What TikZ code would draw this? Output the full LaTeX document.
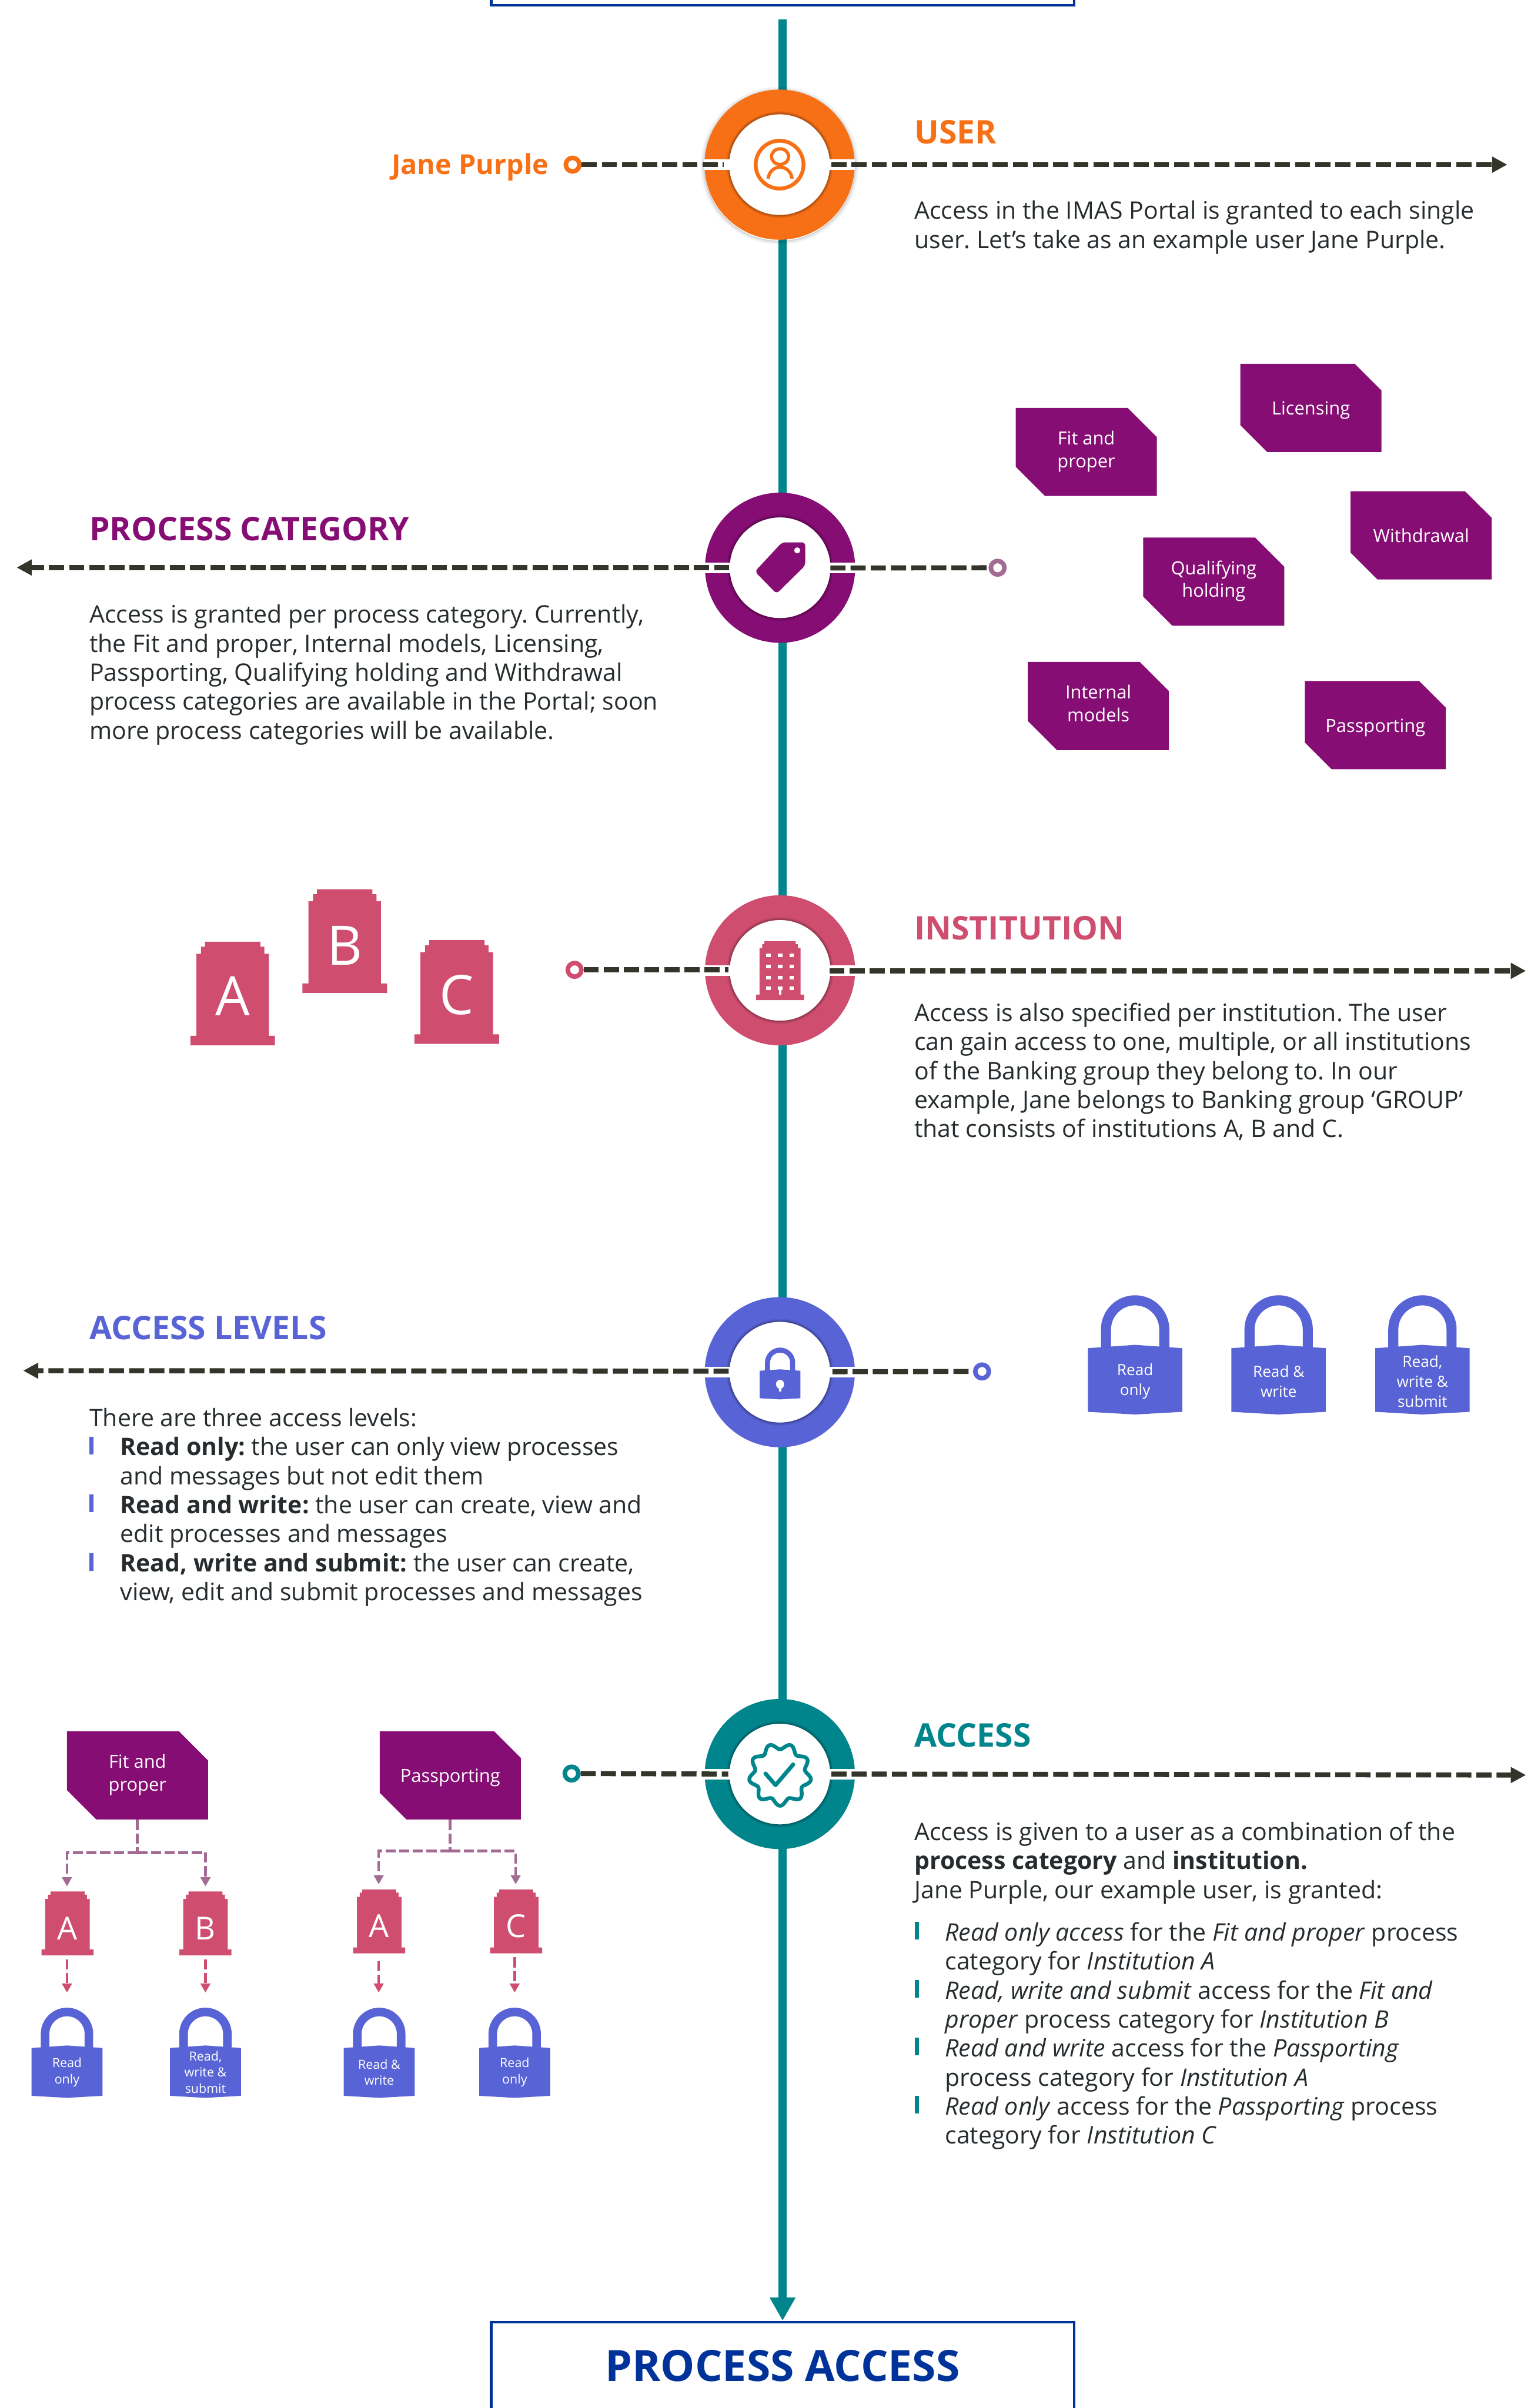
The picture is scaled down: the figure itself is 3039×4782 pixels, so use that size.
\documentclass[tikz,border=0pt]{standalone}
\usepackage{fontspec}
\setmainfont{Open Sans}
\usetikzlibrary{arrows.meta,shapes.misc}
\definecolor{cOrange}{HTML}{F77016}
\definecolor{cPurple}{HTML}{860D73}
\definecolor{cPurpleL}{HTML}{A36B94}
\definecolor{cPink}{HTML}{CF4E70}
\definecolor{cBlue}{HTML}{5863D6}
\definecolor{cTeal}{HTML}{00858C}
\definecolor{cDark}{HTML}{33352A}
\definecolor{cInk}{HTML}{262B2E}
\definecolor{cNavy}{HTML}{00339A}
\newcommand\bl{\rule{0pt}{3.7mm}}
\tikzset{
  ringnode/.style={circle,minimum size=24.9mm,inner sep=0pt,outer sep=0pt,line width=4.9mm,fill=white},
  endring/.style={circle,draw=#1,fill=white,line width=.9mm,minimum size=2.7mm,inner sep=0pt},
  dashline/.style={draw=cDark,line width=1mm,dash pattern=on 3mm off 1mm},
  dasharrow/.style={dashline,-{Triangle[length=3mm,width=3mm]}},
  boxnode/.style={rectangle,draw=cNavy,line width=.55mm,minimum width=115.7mm,inner sep=0pt,fill=white},
  bodytext/.style={anchor=north west,inner sep=0pt,align=left,text=cInk,font=\fontsize{4.79mm}{5.76mm}\selectfont\frenchspacing},
  headtext/.style={anchor=base west,inner sep=0pt,font=\fontsize{6.45mm}{7.5mm}\selectfont\bfseries},
  tagnode/.style={chamfered rectangle,chamfered rectangle xsep=2.9mm,chamfered rectangle ysep=2.9mm,
    chamfered rectangle corners={north east,south west},minimum width=28mm,minimum height=17.5mm,inner sep=0pt,
    fill=cPurple,text=white,align=center,font=\fontsize{3.6mm}{4.5mm}\selectfont,
    execute at begin node={\rule{0pt}{3.75mm}},execute at end node={\rule[-1.05mm]{0pt}{1.05mm}}},
  smallconn/.style={draw=cPurpleL,line width=.55mm,dash pattern=on 2mm off .7mm},
  smallarrow/.style={smallconn,-{Triangle[length=1.8mm,width=1.9mm]}},
  pinkarrow/.style={draw=cPink,line width=.5mm,dash pattern=on 2mm off .7mm,-{Triangle[length=1.8mm,width=1.9mm]}},
  locklabelbig/.style={text=white,align=center,inner sep=0pt,font=\fontsize{3.05mm}{4mm}\selectfont},
  locklabelsmall/.style={text=white,align=center,inner sep=0pt,font=\fontsize{2.5mm}{3.2mm}\selectfont},
  bldletterbig/.style={text=white,inner sep=0pt,font=\fontsize{10.8mm}{12mm}\selectfont},
  bldlettersmall/.style={text=white,inner sep=0pt,font=\fontsize{6.3mm}{7mm}\selectfont}
}
% ring: name, colour, x, y
\newcommand\ringat[4]{%
  \node[ringnode,draw=#2] (#1) at (#3,#4) {};
  \draw[black,opacity=.28,line width=.2mm] (#1.center) circle[radius=101];
  \draw[black,opacity=.16,line width=.2mm] (#1.center) circle[radius=103];
  \draw[black,opacity=.07,line width=.2mm] (#1.center) circle[radius=105];
  \fill[white] ([shift={(-150,-10.5)}]#1.center) rectangle ([shift={(-98,10.5)}]#1.center);
  \fill[white] ([shift={(98,-10.5)}]#1.center) rectangle ([shift={(150,10.5)}]#1.center);
}
% building shape: cx, bottom, scale
\newcommand\bldshape[3]{%
  \fill[cPink,shift={(#1,#2)},scale=#3] (-84,0) -- (84,0) -- (84,-19) -- (72,-19) -- (72,-182) -- (63,-182) -- (63,-196)
    -- (55,-196) -- (55,-206) -- (-55,-206) -- (-55,-196) -- (-63,-196) -- (-63,-182) -- (-72,-182) -- (-72,-19) -- (-84,-19) -- cycle;
}
% lock shape: cx, bottom apex, scale, shackle line width
\newcommand\lockshape[4]{%
  \begin{scope}[shift={(#1,#2)},scale=#3]
    \draw[cBlue,line width=#4] (-43.5,-95) -- (-43.5,-127) arc[start angle=180,end angle=360,radius=43.5] -- (43.5,-95);
    \fill[cBlue] (-70.5,-99) -- (0,-104) -- (70.5,-99) -- (70.5,-4) -- (0,0) -- (-70.5,-4) -- cycle;
  \end{scope}
}
\begin{document}
\begin{tikzpicture}[x=0.01cm,y=-0.01cm]
\useasboundingbox (0,0) rectangle (3039,4782);
\fill[white] (0,0) rectangle (3039,4782);
% boxes
\node[boxnode,minimum height=17.5cm] (topbox) at (1554,-865) {};
\node[boxnode,minimum height=17.3mm,text=cNavy,font=\fontsize{8.55mm}{10mm}\selectfont\bfseries] (bottombox) at (1554,4698) {PROCESS ACCESS};
% timeline
\coordinate (tlstart) at (1554,39);
\draw[cTeal,line width=1.6mm,-{Triangle[length=4.6mm,width=4.8mm]}] (tlstart) -- (bottombox.north);

% ===== USER
\foreach \r/\o in {150/.16,152/.1,154/.06,156/.03}{\draw[black,opacity=\o,line width=.2mm] (1548,329) circle[radius=\r];}
\ringat{ruser}{cOrange}{1548}{327}
\draw[cOrange,line width=.75mm] (ruser.center) circle[radius=47.5];
\draw[cOrange,line width=.65mm] (1549,311) ellipse[x radius=17,y radius=15.5];
\draw[cOrange,line width=.65mm] (1525,355) .. controls (1527,342) and (1536,332) .. (1549,332) .. controls (1562,332) and (1571,342) .. (1573,355);
\node[endring=cOrange] (duser) at (1137,327) {};
\coordinate (uL) at (1437,327); \coordinate (uR) at (1651,327); \coordinate (uA) at (2993,327);
\draw[dashline] (duser.east) -- (uL);
\draw[dasharrow] (uR) -- (uA);
\node[headtext,text=cOrange,font=\fontsize{5.45mm}{7mm}\selectfont\bfseries] (jane) at (777,346) {Jane Purple};
\node[headtext,text=cOrange] (huser) at (1815,285) {USER};
\node[bodytext] (tuser) at (1815,397.5) {\bl Access in the IMAS Portal is granted to each single\\user. Let’s take as an example user Jane Purple.};

% ===== PROCESS CATEGORY
\ringat{rcat}{cPurple}{1549}{1127.5}
\fill[cPurple,rounded corners=.7mm] (1553,1077) -- (1599,1077) -- (1599,1123) -- (1542,1179) -- (1499,1135) -- cycle;
\fill[white] (1583,1093) circle[radius=6];
\node[endring=cPurpleL] (dcat) at (1981,1127.5) {};
\coordinate (cR) at (1649,1128); \coordinate (cL) at (1448,1127); \coordinate (cA) at (33,1127);
\draw[dashline] (cR) -- (dcat.west);
\draw[dasharrow] (cL) -- (cA);
\node[headtext,text=cPurple] (hcat) at (177,1073) {PROCESS CATEGORY};
\node[bodytext] (tcat) at (177,1199.5) {\bl Access is granted per process category. Currently,\\the Fit and proper, Internal models, Licensing,\\Passporting, Qualifying holding and Withdrawal\\process categories are available in the Portal; soon\\more process categories will be available.};
\node[tagnode] (tfit) at (2157,897.5) {Fit and\\proper};
\node[tagnode] (tlic) at (2603,810) {Licensing};
\node[tagnode] (twit) at (2822,1063) {Withdrawal};
\node[tagnode] (tqua) at (2410,1155) {Qualifying\\holding};
\node[tagnode] (tint) at (2181,1402) {Internal\\models};
\node[tagnode] (tpas) at (2731,1440) {Passporting};

% ===== INSTITUTION
\ringat{rinst}{cPink}{1549}{1927}
\bldshape{1549}{1986}{.566}
\foreach \yy in {1897,1919,1941,1963}{\foreach \xx in {1526,1549,1572}{\fill[white] (\xx-4.5,\yy-3.5) rectangle (\xx+4.5,\yy+3.5);}}
\fill[white] (1546.5,1960) rectangle (1551.5,1975);
\node[endring=cPink] (dinst) at (1141,1926) {};
\coordinate (iL) at (1446,1926); \coordinate (iR) at (1647,1928); \coordinate (iA) at (3030,1928);
\draw[dashline] (dinst.east) -- (iL);
\draw[dasharrow] (iR) -- (iA);
\node[headtext,text=cPink] (hinst) at (1815,1866) {INSTITUTION};
\node[bodytext] (tinst) at (1815,1990.5) {\bl Access is also specified per institution. The user\\can gain access to one, multiple, or all institutions\\of the Banking group they belong to. In our\\example, Jane belongs to Banking group ‘GROUP’\\that consists of institutions A, B and C.};
\bldshape{462}{2076}{1}
\node[bldletterbig] (bA) at (462,1978) {A};
\bldshape{684.5}{1972}{1}
\node[bldletterbig] (bB) at (684.5,1878) {B};
\bldshape{907}{2073}{1}
\node[bldletterbig] (bC) at (907,1976) {C};

% ===== ACCESS LEVELS
\ringat{rlev}{cBlue}{1548.5}{2725}
\lockshape{1549}{2779}{.574}{1mm}
\fill[white] (1549,2749) ellipse[x radius=8,y radius=9];
\fill[white] (1547,2750) rectangle (1551,2763);
\node[endring=cBlue] (dlev) at (1950,2723.5) {};
\coordinate (lL) at (1447,2723); \coordinate (lR) at (1653,2724); \coordinate (lA) at (46,2722);
\draw[dashline] (lR) -- (dlev.west);
\draw[dasharrow] (lL) -- (lA);
\node[headtext,text=cBlue] (hlev) at (177,2660) {ACCESS LEVELS};
\node[bodytext] (tlev) at (177,2795.5) {\bl There are three access levels:};
\node[bodytext] (tlevl) at (238,2852.5) {\bl\textbf{Read only:} the user can only view processes\\and messages but not edit them\\\textbf{Read and write:} the user can create, view and\\edit processes and messages\\\textbf{Read, write and submit:} the user can create,\\view, edit and submit processes and messages};
\foreach \yy in {2888,3003,3119}{\fill[cBlue] (177,\yy-35) rectangle (186,\yy);}
\lockshape{2254}{2809}{1.33}{2mm}
\node[locklabelbig] (lk1) at (2254,2743) {Read\\only};
\lockshape{2539}{2809}{1.33}{2mm}
\node[locklabelbig] (lk2) at (2539,2743) {Read \&\\write};
\lockshape{2824.5}{2809}{1.33}{2mm}
\node[locklabelbig] (lk3) at (2824.5,2743) {Read,\\write \&\\submit};

% ===== ACCESS
\ringat{racc}{cTeal}{1548.5}{3523}
\draw[cTeal,line width=.75mm,line join=round] plot[domain=0:360,samples=181,smooth] ({1549+(56+6*cos(9*\x))*sin(\x)},{3524+(56+6*cos(9*\x))*cos(\x)}) -- cycle;
\draw[cTeal,line width=.8mm,line cap=round,line join=round] (1520,3522) -- (1540,3545) -- (1575,3504);
\node[endring=cTeal] (dacc) at (1135,3522) {};
\coordinate (aL) at (1446,3523); \coordinate (aR) at (1651,3523); \coordinate (aA) at (3030,3525);
\draw[dashline] (dacc.east) -- (aL);
\draw[dasharrow] (aR) -- (aA);
\node[headtext,text=cTeal] (hacc) at (1815,3469) {ACCESS};
\node[bodytext] (tacc) at (1815,3617) {\bl Access is given to a user as a combination of the\\\textbf{process category} and \textbf{institution.}\\Jane Purple, our example user, is granted:};
\node[bodytext] (tacl) at (1876,3816.5) {\bl\textit{Read only access} for the \textit{Fit and proper} process\\category for \textit{Institution A}\\\textit{Read, write and submit} access for the \textit{Fit and}\\\textit{proper} process category for \textit{Institution B}\\\textit{Read and write} access for the \textit{Passporting}\\process category for \textit{Institution A}\\\textit{Read only} access for the \textit{Passporting} process\\category for \textit{Institution C}};
\foreach \yy in {3852,3967,4082,4197}{\fill[cTeal] (1816,\yy-35) rectangle (1825,\yy);}

% left trees
\node[tagnode] (sfit) at (273,3525.5) {Fit and\\proper};
\node[tagnode] (spas) at (894,3525.5) {Passporting};
\coordinate (fj) at (273,3679); \coordinate (fl) at (133,3746); \coordinate (fr) at (408,3746);
\coordinate (pj) at (894,3676); \coordinate (pl) at (752,3742); \coordinate (pr) at (1024,3742);
\draw[smallconn] (sfit.south) -- (fj);
\draw[smallarrow] (fj) -| (fl);
\draw[smallarrow] (fj) -| (fr);
\draw[smallconn] (spas.south) -- (pj);
\draw[smallarrow] (pj) -| (pl);
\draw[smallarrow] (pj) -| (pr);
\bldshape{134}{3883}{.615}
\node[bldlettersmall] (sA1) at (134,3829) {A};
\bldshape{408}{3883}{.615}
\node[bldlettersmall] (sB) at (408,3829) {B};
\bldshape{753}{3879}{.615}
\node[bldlettersmall] (sA2) at (753,3825) {A};
\bldshape{1025}{3879}{.615}
\node[bldlettersmall] (sC) at (1025,3825) {C};
\coordinate (a1s) at (133,3891); \coordinate (a1e) at (133,3957);
\coordinate (a2s) at (408,3891); \coordinate (a2e) at (408,3957);
\coordinate (a3s) at (752,3895); \coordinate (a3e) at (752,3957);
\coordinate (a4s) at (1022,3887); \coordinate (a4e) at (1022,3957);
\draw[pinkarrow] (a1s) -- (a1e);
\draw[pinkarrow] (a2s) -- (a2e);
\draw[pinkarrow] (a3s) -- (a3e);
\draw[pinkarrow] (a4s) -- (a4e);
\lockshape{133}{4166}{1}{1.7mm}
\node[locklabelsmall] (k1) at (133,4115) {Read\\only};
\lockshape{408}{4166}{1}{1.7mm}
\node[locklabelsmall] (k2) at (408,4115) {Read,\\write \&\\submit};
\lockshape{753}{4166}{1}{1.7mm}
\node[locklabelsmall] (k3) at (753,4115) {Read \&\\write};
\lockshape{1022}{4166}{1}{1.7mm}
\node[locklabelsmall] (k4) at (1022,4115) {Read\\only};
\end{tikzpicture}
\end{document}
